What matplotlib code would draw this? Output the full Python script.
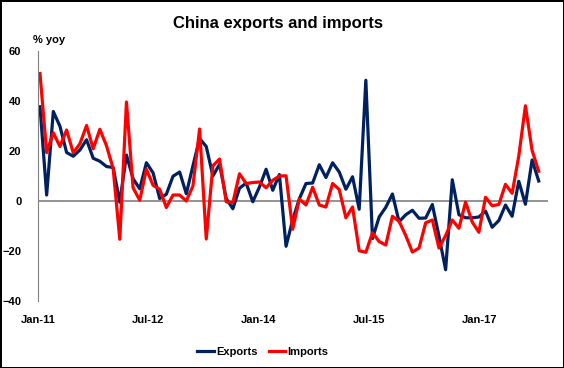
import numpy as np
import matplotlib
matplotlib.use("Agg")
import matplotlib.pyplot as plt

plt.rcParams['font.family'] = ['Liberation Sans', 'DejaVu Sans']

# monthly % yoy, Jan-11 .. Apr-17
exports = [37.7, 2.4, 35.8, 29.9, 19.4, 17.9, 20.4, 24.5, 17.1, 15.9, 13.8, 13.4,
           -0.5, 18.4, 8.9, 4.9, 15.3, 11.3, 1.0, 2.7, 9.9, 11.6, 2.9, 14.1,
           25.0, 21.8, 10.0, 14.7, 1.0, -3.1, 5.1, 7.2, -0.3, 5.6, 12.7, 4.3,
           10.6, -18.1, -7.5, 0.9, 7.0, 7.2, 14.5, 9.4, 15.3, 11.6, 4.7, 9.7,
           -3.3, 48.3, -15.0, -6.4, -2.5, 2.8, -8.3, -5.5, -3.7, -6.9, -6.8, -1.4,
           -14.0, -27.5, 8.5, -5.5, -6.7, -6.7, -6.4, -4.0, -10.5, -7.8, -1.6, -6.1,
           7.9, -1.3, 16.4, 8.0]
imports = [51.0, 19.4, 27.3, 21.8, 28.4, 19.3, 22.9, 30.2, 20.9, 28.7, 22.1, 13.0,
           -15.3, 39.6, 5.3, 0.3, 12.7, 6.3, 4.7, -2.6, 2.4, 2.4, 0.0, 6.0,
           28.8, -15.2, 14.1, 16.8, -0.3, -0.7, 10.9, 7.0, 7.4, 7.6, 5.3, 8.3,
           10.0, 10.1, -11.3, 0.8, -1.6, 5.5, -1.6, -2.4, 7.0, 4.6, -6.7, -2.4,
           -19.9, -20.5, -12.7, -16.2, -17.6, -6.1, -8.1, -13.8, -20.4, -18.8, -8.7, -7.6,
           -18.8, -13.8, -7.6, -10.9, -0.4, -8.4, -12.5, 1.5, -1.9, -1.4, 6.7, 3.1,
           18.0, 38.1, 20.3, 11.9]
tick_labels = ['Jan-11', 'Jul-12', 'Jan-14', 'Jul-15', 'Jan-17']

x = np.arange(len(exports))

fig = plt.figure(figsize=(5.64, 3.68), dpi=100)
fig.patch.set_edgecolor('black')
fig.patch.set_linewidth(2)
ax = fig.add_axes([0.0674, 0.182, 0.9043, 0.6794])

ax.plot(x, exports, color='#002060', lw=2.3, label='Exports')
ax.plot(x, imports, color='#ff0000', lw=2.3, label='Imports')
ax.axhline(0, color='#808080', lw=1.2, zorder=0)

ax.set_ylim(-40, 60)
ax.set_yticks(np.arange(-40, 61, 20))
ax.set_xlim(-0.3, 76.4)
# Excel placed the date labels slightly tighter than the data
ax.set_xticks(np.arange(5) * 16.6 - 0.3)
ax.set_xticklabels(tick_labels)
ax.tick_params(axis='both', length=0, labelsize=8)
ax.tick_params(axis='y', pad=12)
ax.tick_params(axis='x', pad=10)
for lab in ax.get_xticklabels() + ax.get_yticklabels():
    lab.set_fontweight('bold')

for s in ['top', 'right', 'bottom']:
    ax.spines[s].set_visible(False)
ax.spines['left'].set_color('#808080')

fig.text(0.493, 0.937, 'China exports and imports', ha='center', va='center',
         fontsize=12, fontweight='bold')
fig.text(0.059, 0.891, '% yoy', ha='left', va='center', fontsize=8, fontweight='bold')

fig.legend(loc='center', bbox_to_anchor=(0.466, 0.043), ncol=2, frameon=False,
           prop={'size': 8, 'weight': 'bold'}, handlelength=1.5, handletextpad=0.2,
           columnspacing=1.0)

fig.savefig('out.png', dpi=100)
